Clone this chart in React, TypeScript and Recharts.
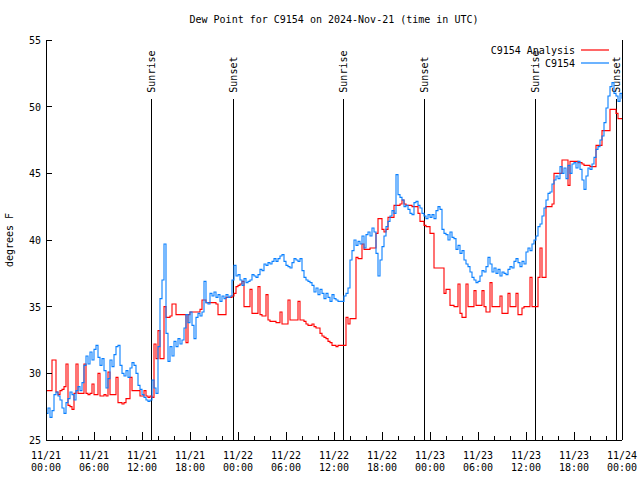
import React from 'react'
import { LineChart, Line, XAxis, YAxis, ReferenceLine, Legend } from 'recharts'

const FONT = '"DejaVu Sans Mono", "Liberation Mono", monospace'

// dew point (F), one value every 15 min from 2024-11-21 00:00 UTC
const analysis = [
  28.7, 28.7, 28.7, 31.0, 31.0, 28.6, 28.4, 28.7, 28.8, 29.0, 30.7, 27.6,
  27.5, 27.3, 28.5, 30.7, 28.5, 28.5, 28.5, 30.7, 28.5, 28.4, 28.5, 29.2,
  28.4, 28.4, 30.0, 28.3, 28.3, 28.4, 28.3, 30.1, 28.4, 28.4, 28.4, 29.7,
  27.8, 27.8, 27.7, 27.8, 28.1, 28.1, 29.7, 28.7, 28.7, 28.7, 28.7, 28.3,
  28.3, 28.7, 28.3, 28.2, 28.3, 28.2, 32.2, 31.1, 33.2, 31.1, 31.1, 35.0,
  34.2, 34.2, 34.3, 35.2, 35.2, 34.4, 34.4, 34.4, 34.4, 34.4, 32.3, 34.4,
  34.6, 34.6, 34.6, 34.6, 34.6, 34.8, 35.5, 35.5, 35.3, 35.3, 35.3, 35.3,
  35.3, 35.2, 34.4, 34.4, 34.4, 34.4, 35.7, 35.7, 35.7, 35.8, 36.0, 36.5,
  36.6, 36.7, 36.9, 35.0, 35.0, 35.0, 36.3, 34.5, 34.5, 34.5, 36.5, 34.4,
  34.3, 34.3, 35.9, 34.0, 33.9, 33.9, 33.9, 33.8, 33.8, 34.6, 33.7, 33.7,
  33.7, 35.5, 34.0, 34.0, 34.0, 34.0, 35.4, 34.0, 34.0, 33.9, 33.7, 33.6,
  33.6, 33.7, 33.5, 33.4, 33.4, 33.0, 32.8, 32.7, 32.6, 32.4, 32.3, 32.1,
  32.1, 32.0, 32.1, 32.1, 32.1, 32.1, 34.2, 33.7, 34.1, 34.1, 34.1, 38.7,
  38.6, 38.6, 39.7, 39.3, 39.3, 39.3, 39.4, 39.4, 39.4, 40.5, 41.6, 41.6,
  40.8, 40.6, 40.8, 41.7, 41.7, 41.7, 42.6, 42.6, 42.6, 42.7, 43.0, 42.7,
  42.6, 42.6, 42.6, 42.5, 42.5, 42.5, 42.0, 41.4, 41.4, 41.1, 41.0, 41.0,
  40.5, 40.5, 37.9, 37.9, 37.9, 37.9, 37.9, 36.0, 36.3, 36.3, 35.1, 35.1,
  35.0, 35.0, 36.7, 34.5, 34.2, 34.2, 36.7, 35.0, 35.0, 35.0, 36.2, 35.1,
  35.1, 35.1, 36.2, 35.0, 34.6, 34.6, 36.8, 35.0, 35.0, 35.0, 35.0, 35.8,
  34.5, 34.5, 34.5, 36.0, 35.0, 35.0, 35.0, 36.0, 34.4, 34.4, 34.9, 35.0,
  35.0, 35.0, 37.2, 35.0, 35.0, 35.0, 37.2, 39.4, 37.2, 37.2, 42.5, 42.5,
  42.5, 42.7, 45.0, 45.0, 45.0, 45.0, 46.0, 46.0, 46.0, 44.1, 45.9, 45.9,
  45.9, 45.9, 45.8, 45.8, 45.7, 45.6, 45.6, 45.6, 45.5, 45.5, 45.5, 47.1,
  47.1, 47.1, 48.2, 48.2, 48.2, 48.2, 49.8, 49.8, 49.8, 49.5, 49.1, 49.1,
  49.1,
]

const observed = [
  27.0, 27.4, 26.7, 27.2, 28.4, 28.6, 28.3, 28.0, 27.4, 27.0, 27.8, 28.1,
  28.6, 28.4, 28.0, 28.7, 29.0, 28.7, 29.3, 30.6, 31.3, 30.7, 31.6, 31.0,
  31.8, 32.1, 31.2, 30.6, 31.1, 30.2, 28.9, 29.6, 31.0, 30.5, 31.4, 32.0,
  32.1, 30.6, 30.0, 29.8, 30.2, 29.7, 30.4, 30.8, 30.6, 30.0, 29.1, 28.8,
  28.4, 28.2, 28.0, 27.9, 28.0, 29.5, 28.9, 28.5, 32.0, 35.6, 37.0, 39.7,
  33.0, 30.9, 32.0, 31.3, 32.4, 32.0, 32.6, 32.2, 32.5, 33.4, 34.4, 33.8,
  34.6, 33.6, 32.6, 34.2, 34.5, 34.3, 34.6, 36.9, 35.3, 35.2, 36.0, 35.8,
  36.1, 35.7, 35.9, 35.4, 35.8, 35.6, 35.9, 35.7, 35.8, 37.0, 38.1, 37.3,
  37.4, 37.0, 36.6, 37.1, 36.8, 36.9, 37.0, 37.4, 37.3, 37.2, 37.4, 37.8,
  37.7, 38.2, 38.1, 38.3, 38.2, 38.4, 38.6, 38.4, 38.6, 38.8, 38.9, 38.4,
  38.1, 38.0, 37.9, 38.3, 38.6, 38.5, 38.4, 38.6, 37.7, 37.2, 37.0, 36.9,
  36.8, 36.6, 36.1, 36.4, 35.9, 36.3, 36.0, 35.6, 36.0, 35.7, 35.4, 35.9,
  35.6, 35.5, 35.4, 35.4, 35.4, 35.8, 36.0, 36.4, 38.5, 39.2, 40.0, 39.6,
  39.9, 39.7, 40.3, 39.4, 40.4, 40.6, 40.3, 40.9, 40.6, 39.0, 37.3, 38.5,
  39.5, 40.3, 41.0, 41.4, 41.8, 42.2, 42.0, 44.9, 43.4, 43.2, 43.0, 42.5,
  42.6, 42.3, 42.0, 41.9, 42.8, 42.9, 42.6, 42.4, 42.0, 41.8, 41.6, 41.9,
  41.7, 41.9, 41.6, 42.2, 42.5, 42.3, 40.8, 40.5, 40.4, 40.0, 40.6, 40.2,
  40.1, 39.3, 39.6, 39.0, 39.2, 38.5, 38.2, 38.0, 37.6, 37.2, 37.0, 36.8,
  36.9, 37.3, 37.7, 37.6, 38.0, 38.7, 38.2, 37.6, 37.9, 37.5, 37.8, 37.3,
  37.6, 37.5, 37.4, 37.8, 38.0, 37.9, 38.4, 38.6, 38.3, 38.0, 38.4, 38.2,
  39.1, 39.4, 39.2, 39.7, 40.0, 40.3, 41.0, 41.2, 41.8, 42.4, 43.0, 43.5,
  43.6, 44.2, 44.5, 44.8, 44.6, 45.5, 45.0, 45.4, 44.6, 45.6, 45.0, 45.7,
  45.8, 45.4, 45.9, 45.3, 44.5, 43.8, 44.8, 45.4, 45.3, 45.7, 46.2, 46.8,
  47.0, 47.5, 47.8, 48.8, 49.9, 50.8, 51.5, 51.8, 51.0, 50.8, 50.4, 51.0,
  50.6,
]

const tickHours = [0, 2, 4, 6, 8, 10, 12, 14, 16, 18, 20, 22, 24, 26, 28, 30, 32, 34, 36, 38, 40, 42, 44, 46, 48, 50, 52, 54, 56, 58, 60, 62, 64, 66, 68, 70, 72]
const dayLabels = ['11/21', '11/21', '11/21', '11/21', '11/22', '11/22', '11/22', '11/22', '11/23', '11/23', '11/23', '11/23', '11/24']
const timeLabels = ['00:00', '06:00', '12:00', '18:00', '00:00', '06:00', '12:00', '18:00', '00:00', '06:00', '12:00', '18:00', '00:00']
const yTicks = [25, 30, 35, 40, 45, 50, 55]

const sunNames = ['Sunrise', 'Sunset', 'Sunrise', 'Sunset', 'Sunrise', 'Sunset']
const sunHours = [13.2, 23.4, 37.2, 47.35, 61.2, 71.35]

const legendOrder = ['C9154 Analysis', 'C9154']

const data = observed.map((v, i) => ({ hour: i * 0.25, analysis: analysis[i], observed: v }))

const txt = { fontFamily: FONT, fontSize: 10, fill: '#000' }

function BottomTick(props: any) {
  const { x, y, payload } = props
  const h = payload.value
  const major = h % 6 === 0
  const i = h / 6
  return (
    <g>
      <line x1={x} x2={x} y1={y} y2={y - (major ? 8 : 4)} stroke="#000" shapeRendering="crispEdges" />
      {major && (
        <text x={x} y={y + 19} textAnchor="middle" {...txt}>
          <tspan x={x}>{dayLabels[i]}</tspan>
          <tspan x={x} dy={12}>{timeLabels[i]}</tspan>
        </text>
      )}
    </g>
  )
}

function TopTick(props: any) {
  const { x, y, payload } = props
  const major = payload.value % 6 === 0
  return <line x1={x} x2={x} y1={y} y2={y + (major ? 8 : 4)} stroke="#000" shapeRendering="crispEdges" />
}

function LeftTick(props: any) {
  const { x, y, payload } = props
  return (
    <g>
      <line x1={x} x2={x + 6} y1={y} y2={y} stroke="#000" shapeRendering="crispEdges" />
      <text x={x - 5} y={y + 4} textAnchor="end" {...txt}>{payload.value}</text>
    </g>
  )
}

function RightTick(props: any) {
  const { x, y } = props
  return <line x1={x} x2={x - 6} y1={y} y2={y} stroke="#000" shapeRendering="crispEdges" />
}

function YLabel(props: any) {
  const vb = props.viewBox || { x: 0, y: 40, height: 400 }
  const cy = vb.y + vb.height / 2
  return (
    <text transform={`translate(13,${cy}) rotate(-90)`} textAnchor="middle" {...txt}>
      degrees F
    </text>
  )
}

function SunLabel(props: any) {
  const { viewBox, name } = props
  if (!viewBox) return null
  return (
    <text transform={`translate(${viewBox.x + 3.5},${viewBox.y - 6}) rotate(-90)`} textAnchor="start" {...txt}>
      {name}
    </text>
  )
}

function LegendBox(props: any) {
  const items = [...(props.payload || [])].sort(
    (a: any, b: any) => legendOrder.indexOf(a.value) - legendOrder.indexOf(b.value),
  )
  return (
    <svg width={150} height={30} style={{ display: 'block' }}>
      {items.map((it: any, i: number) => (
        <g key={it.value}>
          <text x={105} y={10.5 + i * 13} textAnchor="end" {...txt}>{it.value}</text>
          <line x1={111} x2={139} y1={7 + i * 13} y2={7 + i * 13} stroke={it.color} strokeWidth={1.2} />
        </g>
      ))}
    </svg>
  )
}

export default function App() {
  return (
    <div style={{ position: 'absolute', left: 0, top: 0, width: 640, height: 480, background: '#fff' }}>
      <div
        style={{
          position: 'absolute', left: 46, top: 13, width: 576, textAlign: 'center',
          fontFamily: FONT, fontSize: 10, lineHeight: '14px', color: '#000',
        }}
      >
        Dew Point for C9154 on 2024-Nov-21 (time in UTC)
      </div>
      <LineChart width={640} height={480} data={data} margin={{ top: 40, right: 0, bottom: 0, left: 0 }}>
        <XAxis
          xAxisId="bottom" dataKey="hour" type="number" domain={[0, 72]} ticks={tickHours} interval={0}
          height={40} tickSize={0} tickMargin={0} tickLine={false}
          axisLine={{ stroke: '#000', shapeRendering: 'crispEdges' }} tick={<BottomTick />}
        />
        <XAxis
          xAxisId="top" orientation="top" dataKey="hour" type="number" domain={[0, 72]} ticks={tickHours} interval={0}
          height={0} tickSize={0} tickMargin={0} tickLine={false}
          axisLine={{ stroke: '#000', shapeRendering: 'crispEdges' }} tick={<TopTick />}
        />
        <YAxis
          yAxisId="left" type="number" domain={[25, 55]} ticks={yTicks} interval={0} width={46}
          tickSize={0} tickMargin={0} tickLine={false}
          axisLine={{ stroke: '#000', shapeRendering: 'crispEdges' }} tick={<LeftTick />}
          label={<YLabel />}
        />
        <YAxis
          yAxisId="right" orientation="right" type="number" domain={[25, 55]} ticks={yTicks} interval={0} width={18}
          tickSize={0} tickMargin={0} tickLine={false}
          axisLine={{ stroke: '#000', shapeRendering: 'crispEdges' }} tick={<RightTick />}
        />
        {sunHours.map((h, i) => (
          <ReferenceLine
            key={i}
            xAxisId="bottom"
            yAxisId="left"
            segment={[{ x: h, y: 50.6 }, { x: h, y: 25 }]}
            stroke="#000"
            strokeWidth={1}
            shapeRendering="crispEdges"
            label={<SunLabel name={sunNames[i]} />}
          />
        ))}
        <Line
          xAxisId="bottom" yAxisId="left" type="stepAfter" dataKey="analysis" name="C9154 Analysis"
          stroke="#ff0000" strokeWidth={1.1} dot={false} activeDot={false} isAnimationActive={false}
        />
        <Line
          xAxisId="bottom" yAxisId="left" type="stepAfter" dataKey="observed" name="C9154"
          stroke="#0a80ff" strokeWidth={1.1} dot={false} activeDot={false} isAnimationActive={false}
        />
        <Legend
          layout="horizontal" verticalAlign="middle" align="center"
          wrapperStyle={{ top: 43, left: 470, width: 150, height: 30 }}
          content={<LegendBox />}
        />
      </LineChart>
    </div>
  )
}
